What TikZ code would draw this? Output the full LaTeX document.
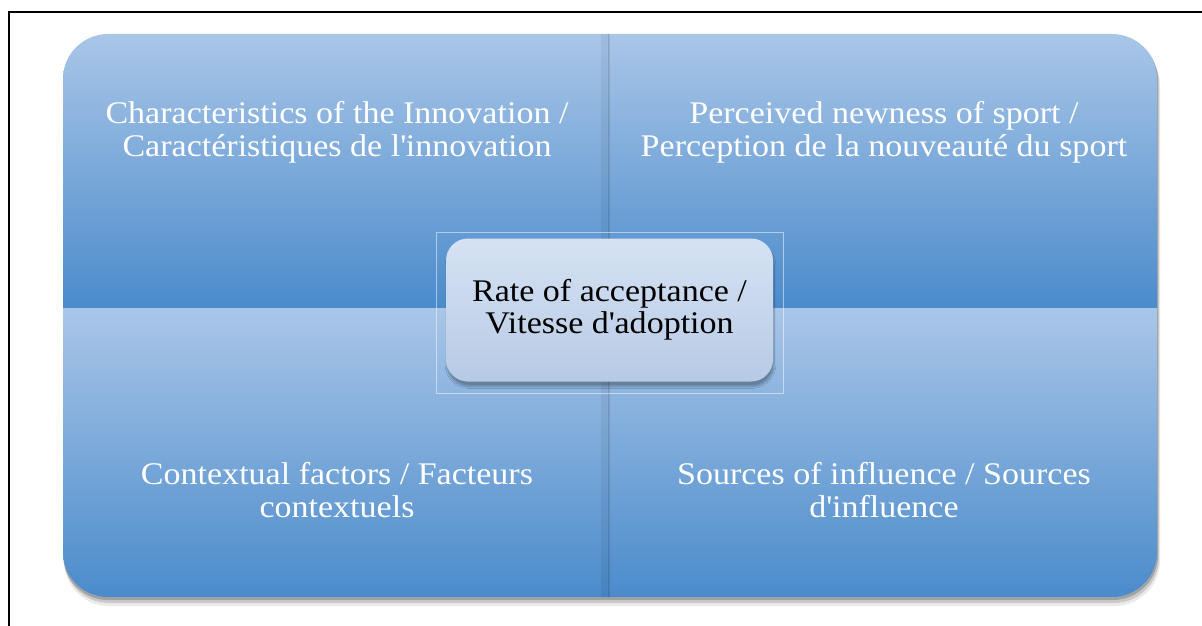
\documentclass[tikz,border=0pt]{standalone}
\usepackage{fontspec}
\setmainfont{Liberation Serif}[FakeStretch=1.08]
\usetikzlibrary{shadows,shadows.blur}
\definecolor{quadtop}{HTML}{A9C6E8}
\definecolor{quadbot}{HTML}{4B8BCB}
\definecolor{hubtop}{HTML}{D5E2F3}
\definecolor{hubbot}{HTML}{B7CAE5}
\tikzset{
	quadtext/.style={text=white, align=center, font=\fontsize{31.5}{33}\selectfont},
	hubbox/.style={rounded corners=22pt, top color=hubtop, bottom color=hubbot, minimum width=327pt, minimum height=143pt, align=center, font=\fontsize{31.5}{32}\selectfont, blur shadow={shadow xshift=1pt, shadow yshift=-5pt, shadow blur steps=8, shadow opacity=30}}
}

\begin{document}
\begin{tikzpicture}[x=1pt, y=1pt]
			%%%%% START %%%%%
			\useasboundingbox (0, 0) rectangle (1202, -626);
			
			% frame of the cell
			\draw[line width=2.5pt] (9, -626) -- (9, -12) -- (1202, -12);
			
			% shadow of the matrix
			\fill[black, opacity=0.08] [rounded corners=45pt] (64, -41) rectangle (1160, -606);
			\fill[black, opacity=0.14] [rounded corners=45pt] (64, -38) rectangle (1159, -603);
			\fill[black, opacity=0.2] [rounded corners=45pt] (63, -35) rectangle (1158, -600);
			
			% the four quadrants
			\begin{scope}
				\clip[rounded corners=45pt] (63, -34) rectangle (1157, -597);
				\shade[top color=quadtop, bottom color=quadbot] (63, -34) rectangle (610, -308);
				\shade[top color=quadtop, bottom color=quadbot] (610, -34) rectangle (1157, -308);
				\shade[top color=quadtop, bottom color=quadbot] (63, -308) rectangle (610, -597);
				\shade[top color=quadtop, bottom color=quadbot] (610, -308) rectangle (1157, -597);
				\fill[black, opacity=0.05] (601, -34) rectangle (609, -597);
				\fill[black, opacity=0.1] (608, -34) rectangle (610, -597);
			\end{scope}
			
			\node[quadtext] (innov) at (337, -132) {Characteristics of the Innovation /\\Caractéristiques de l\textquotesingle innovation};
			\node[quadtext] (newness) at (884, -132) {Perceived newness of sport /\\Perception de la nouveauté du sport};
			\node[quadtext] (context) at (337, -490) {Contextual factors / Facteurs\\contextuels};
			\node[quadtext] (sources) at (884, -490) {Sources of influence / Sources\\d\textquotesingle influence};
			
			% centre
			\draw[white, opacity=0.5, line width=0.8pt] (436, -232) rectangle (783, -393);
			\node[hubbox] (rate) at (609.5, -310) {Rate of acceptance /\\Vitesse d\textquotesingle adoption};
			
			%%%%% END %%%%%
		\end{tikzpicture}
\end{document}
